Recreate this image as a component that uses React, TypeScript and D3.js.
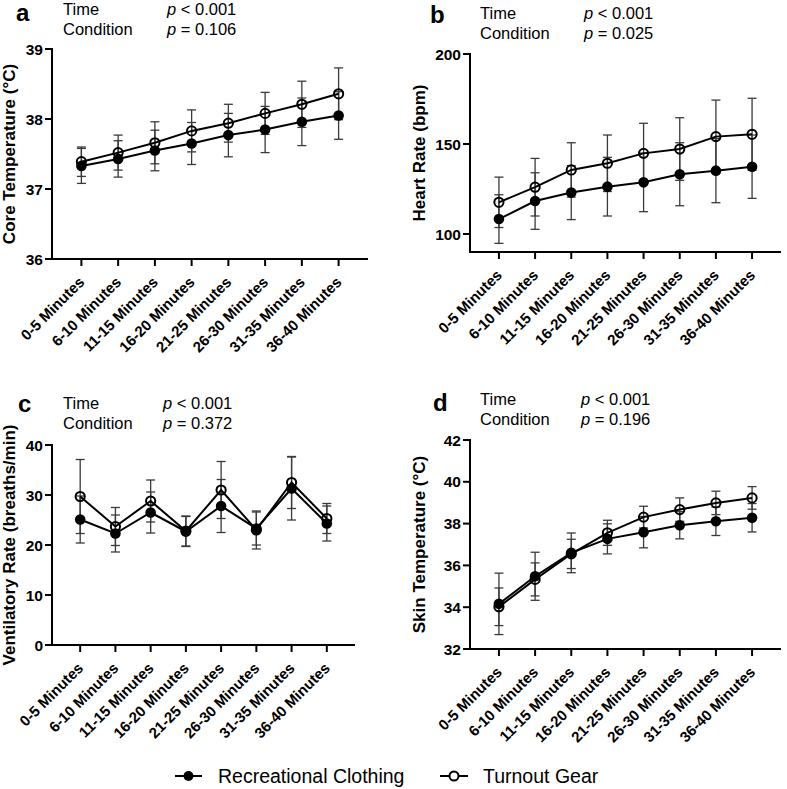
import React from 'react';
import * as d3 from 'd3';

const categories = ['0-5 Minutes', '6-10 Minutes', '11-15 Minutes', '16-20 Minutes', '21-25 Minutes', '26-30 Minutes', '31-35 Minutes', '36-40 Minutes'];

// a: core temperature
const coreRec = [37.33, 37.43, 37.55, 37.65, 37.77, 37.85, 37.96, 38.05];
const coreRecSD = [0.25, 0.26, 0.29, 0.30, 0.31, 0.33, 0.34, 0.34];
const coreTurn = [37.39, 37.52, 37.66, 37.83, 37.94, 38.08, 38.21, 38.36];
const coreTurnSD = [0.21, 0.25, 0.30, 0.30, 0.27, 0.30, 0.33, 0.37];
const coreTicks = [36, 37, 38, 39];

// b: heart rate
const hrRec = [108.3, 118.3, 123.0, 126.3, 128.7, 133.2, 135.2, 137.4];
const hrRecSD = [13.5, 15.7, 15.0, 16.3, 16.3, 17.5, 17.8, 17.6];
const hrTurn = [117.6, 126.0, 135.6, 139.3, 144.8, 147.2, 154.1, 155.4];
const hrTurnSD = [14.0, 16.0, 15.1, 15.7, 16.7, 17.4, 20.3, 20.0];
const hrTicks = [100, 150, 200];

// c: ventilatory rate
const vrRec = [25.1, 22.3, 26.5, 22.7, 27.8, 23.3, 31.3, 24.3];
const vrRecSD = [4.7, 3.7, 4.1, 3.0, 5.3, 3.3, 6.3, 3.5];
const vrTurn = [29.7, 23.7, 28.8, 22.8, 31.0, 23.0, 32.5, 25.3];
const vrTurnSD = [7.4, 3.8, 4.2, 3.0, 5.7, 3.8, 5.2, 3.0];
const vrTicks = [0, 10, 20, 30, 40];

// d: skin temperature
const skRec = [34.16, 35.48, 36.60, 37.27, 37.59, 37.92, 38.11, 38.28];
const skRecSD = [1.47, 1.15, 0.95, 0.72, 0.75, 0.65, 0.68, 0.68];
const skTurn = [34.02, 35.33, 36.55, 37.56, 38.31, 38.67, 38.99, 39.23];
const skTurnSD = [0.90, 0.79, 0.70, 0.60, 0.52, 0.56, 0.56, 0.54];
const skTicks = [32, 34, 36, 38, 40, 42];

const seriesNames = ['Recreational Clothing', 'Turnout Gear'];

const FONT = "Arial, 'Liberation Sans', Helvetica, sans-serif";

type PanelProps = {
  letter: string;
  pTime: string;
  pCond: string;
  yLabel: string;
  x0: number; x1: number; yTop: number; yBot: number;
  domain: [number, number];
  ticks: number[];
  rec: number[]; recSD: number[]; turn: number[]; turnSD: number[];
  letterPos: [number, number];
  textX: number; pX: number; textY: number;
  yLabelX: number;
};

function Panel(p: PanelProps) {
  const x = d3.scalePoint<string>().domain(categories).range([p.x0, p.x1]).padding(0.8);
  const y = d3.scaleLinear().domain(p.domain).range([p.yBot, p.yTop]);
  const line = d3.line<number>().x((_, i) => x(categories[i]) as number).y(v => y(v));
  const axisY = y(p.domain[0]);
  const err = (vals: number[], sds: number[], key: string) =>
    vals.map((v, i) => {
      const cx = x(categories[i]) as number;
      const lo = y(v - sds[i]);
      const hi = y(v + sds[i]);
      return (
        <g key={key + i} stroke="#3a3a3a" strokeWidth={1.3}>
          <line x1={cx} x2={cx} y1={lo} y2={hi} />
          <line x1={cx - 4.5} x2={cx + 4.5} y1={lo} y2={lo} />
          <line x1={cx - 4.5} x2={cx + 4.5} y1={hi} y2={hi} />
        </g>
      );
    });
  return (
    <g fontFamily={FONT}>
      <text x={p.letterPos[0]} y={p.letterPos[1]} fontSize={24} fontWeight="bold">{p.letter}</text>
      <text x={p.textX} y={p.textY} fontSize={16.5}>Time</text>
      <text x={p.textX} y={p.textY + 20} fontSize={16.5}>Condition</text>
      <text x={p.pX} y={p.textY} fontSize={16.5}><tspan fontStyle="italic">p</tspan> &lt; 0.001</text>
      <text x={p.pX} y={p.textY + 20} fontSize={16.5}><tspan fontStyle="italic">p</tspan> = {p.pCond}</text>
      {/* y axis */}
      <line x1={p.x0} x2={p.x0} y1={p.yTop - 1} y2={axisY + 1} stroke="#000" strokeWidth={2} />
      {p.ticks.map(t => (
        <g key={'yt' + t}>
          <line x1={p.x0 - 7} x2={p.x0} y1={y(t)} y2={y(t)} stroke="#000" strokeWidth={2} />
          <text x={p.x0 - 9} y={y(t)} dy="0.36em" textAnchor="end" fontSize={15.5} fontWeight="bold">{t}</text>
        </g>
      ))}
      <text transform={`translate(${p.yLabelX},${(p.yTop + axisY) / 2}) rotate(-90)`} textAnchor="middle" fontSize={17} fontWeight="bold">{p.yLabel}</text>
      {/* x axis */}
      <line x1={p.x0 - 1} x2={p.x1} y1={axisY} y2={axisY} stroke="#000" strokeWidth={2} />
      {categories.map(c => {
        const cx = x(c) as number;
        return (
          <g key={'xt' + c}>
            <line x1={cx} x2={cx} y1={axisY} y2={axisY + 7} stroke="#000" strokeWidth={2} />
            <text transform={`translate(${cx + 4},${axisY + 24}) rotate(-45)`} textAnchor="end" fontSize={15} fontWeight="bold">{c}</text>
          </g>
        );
      })}
      {err(p.rec, p.recSD, 'er')}
      {err(p.turn, p.turnSD, 'et')}
      <path d={line(p.rec) || ''} fill="none" stroke="#000" strokeWidth={2} />
      <path d={line(p.turn) || ''} fill="none" stroke="#000" strokeWidth={2} />
      {p.rec.map((v, i) => (
        <circle key={'mr' + i} cx={x(categories[i]) as number} cy={y(v)} r={5.3} fill="#000" />
      ))}
      {p.turn.map((v, i) => (
        <circle key={'mt' + i} cx={x(categories[i]) as number} cy={y(v)} r={4.6} fill="none" stroke="#000" strokeWidth={2} />
      ))}
    </g>
  );
}

export default function App() {
  return (
    <svg width={787} height={789} style={{ position: 'absolute', left: 0, top: 0, background: '#fff' }}>
      <rect width={787} height={789} fill="#fff" />
      <Panel letter="a" pTime="< 0.001" pCond="0.106" yLabel="Core Temperature (°C)"
        x0={52} x1={368} yTop={49} yBot={259} domain={[36, 39]} ticks={coreTicks}
        rec={coreRec} recSD={coreRecSD} turn={coreTurn} turnSD={coreTurnSD}
        letterPos={[16, 21]} textX={63} pX={167} textY={15} yLabelX={15} />
      <Panel letter="b" pTime="< 0.001" pCond="0.025" yLabel="Heart Rate (bpm)"
        x0={470} x1={781} yTop={54} yBot={252} domain={[90, 200]} ticks={hrTicks}
        rec={hrRec} recSD={hrRecSD} turn={hrTurn} turnSD={hrTurnSD}
        letterPos={[430, 23]} textX={480} pX={584} textY={19} yLabelX={425} />
      <Panel letter="c" pTime="< 0.001" pCond="0.372" yLabel="Ventilatory Rate (breaths/min)"
        x0={52} x1={355} yTop={445} yBot={645} domain={[0, 40]} ticks={vrTicks}
        rec={vrRec} recSD={vrRecSD} turn={vrTurn} turnSD={vrTurnSD}
        letterPos={[18, 412]} textX={63} pX={163} textY={409} yLabelX={15} />
      <Panel letter="d" pTime="< 0.001" pCond="0.196" yLabel="Skin Temperature (°C)"
        x0={470} x1={781} yTop={440} yBot={649} domain={[32, 42]} ticks={skTicks}
        rec={skRec} recSD={skRecSD} turn={skTurn} turnSD={skTurnSD}
        letterPos={[433, 411]} textX={480} pX={581} textY={405} yLabelX={425} />
      {/* legend */}
      <g fontFamily={FONT}>
        <line x1={175} x2={202} y1={776} y2={776} stroke="#000" strokeWidth={2} />
        <circle cx={188.5} cy={776} r={5} fill="#000" />
        <text x={218} y={783} fontSize={19.5}>{seriesNames[0]}</text>
        <line x1={440} x2={468} y1={776} y2={776} stroke="#000" strokeWidth={2} />
        <circle cx={454} cy={776} r={4.5} fill="#fff" stroke="#000" strokeWidth={2} />
        <text x={483} y={783} fontSize={19.5}>{seriesNames[1]}</text>
      </g>
    </svg>
  );
}
